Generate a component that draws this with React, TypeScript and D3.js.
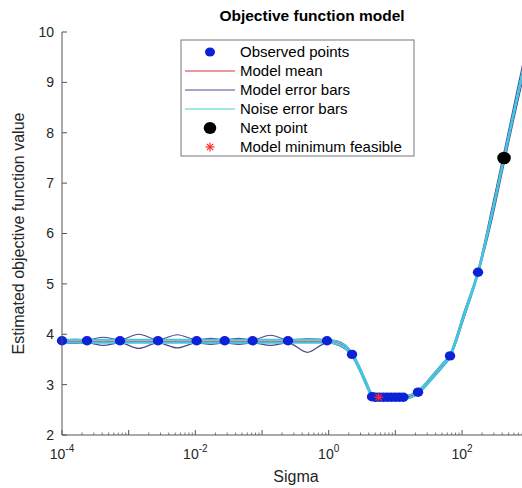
import React from "react";
import * as d3 from "d3";

// ---- data (x values are log10(Sigma)) ----
const curveLogSigma = [-4.0, -3.81, -3.625, -3.38, -3.13, -2.85, -2.56, -2.27, -1.98, -1.77, -1.56, -1.35, -1.14, -0.875, -0.61, -0.32, -0.025, 0.15, 0.35, 0.47, 0.57, 0.65, 0.75, 0.9, 1.05, 1.19, 1.34, 1.58, 1.72, 1.82, 1.92, 2.0, 2.24, 2.45, 2.63, 2.9, 3.0];
const meanValues = [3.86, 3.86, 3.86, 3.86, 3.86, 3.86, 3.86, 3.86, 3.86, 3.86, 3.86, 3.86, 3.86, 3.86, 3.86, 3.86, 3.86, 3.82, 3.6, 3.3, 3.0, 2.79, 2.75, 2.75, 2.75, 2.76, 2.85, 3.19, 3.4, 3.57, 3.92, 4.26, 5.23, 6.4, 7.5, 9.14, 9.72];
const modelUpper = [3.89, 3.9, 3.89, 3.94, 3.89, 4.0, 3.89, 3.99, 3.89, 3.92, 3.89, 3.92, 3.89, 3.98, 3.89, 3.91, 3.89, 3.86, 3.63, 3.34, 3.04, 2.82, 2.78, 2.78, 2.78, 2.79, 2.88, 3.23, 3.44, 3.6, 3.97, 4.32, 5.27, 6.52, 7.62, 9.3, 9.92];
const modelLower = [3.83, 3.82, 3.83, 3.78, 3.83, 3.72, 3.83, 3.73, 3.83, 3.8, 3.83, 3.8, 3.83, 3.78, 3.83, 3.64, 3.83, 3.78, 3.57, 3.26, 2.96, 2.76, 2.72, 2.72, 2.72, 2.73, 2.82, 3.15, 3.36, 3.54, 3.87, 4.2, 5.19, 6.28, 7.38, 8.98, 9.52];
const noiseHalfWidth = [0.03];

const observedLogSigma = [-4, -3.625, -3.13, -2.56, -1.98, -1.56, -1.14, -0.61, -0.025, 0.35, 0.65, 0.7, 0.76, 0.82, 0.88, 0.94, 1.0, 1.06, 1.12, 1.34, 1.82, 2.24];
const observedValues = [3.87, 3.87, 3.87, 3.87, 3.87, 3.87, 3.87, 3.87, 3.87, 3.6, 2.76, 2.75, 2.75, 2.75, 2.75, 2.75, 2.75, 2.75, 2.75, 2.85, 3.57, 5.23];
const nextPoint = [2.63, 7.5];
const minFeasible = [0.75, 2.75];

const yTicks = [2, 3, 4, 5, 6, 7, 8, 9, 10];
const xMajorExps = [-4, -3, -2, -1, 0, 1, 2, 3];
const xLabelExps = [-4, -2, 0, 2];
const legendLabels = ["Observed points", "Model mean", "Model error bars", "Noise error bars", "Next point", "Model minimum feasible"];

const W = 522, H = 488;
const C_OBS = "#0b22d8";
const C_MEAN = "#d8303a";
const C_MODEL = "#474c8c";
const C_NOISE = "#45c6e0";
const C_AXIS = "#555555";
const C_TEXT = "#262626";
const FONT = "'Liberation Sans', Arial, Helvetica, sans-serif";

export default function App() {
  const x = d3.scaleLog().domain([1e-4, 1e3]).range([62, 528.7]);
  const y = d3.scaleLinear().domain([2, 10]).range([435, 32]);
  const px = (e: number) => x(Math.pow(10, e));

  const mk = (vals: number[], off = 0) =>
    d3
      .line<number>()
      .x((_, i) => px(curveLogSigma[i]))
      .y((v) => y(v + off))
      .curve(d3.curveMonotoneX)(vals) as string;

  const minorTicks: number[] = [];
  for (let e = -4; e < 3; e++) for (let k = 2; k <= 9; k++) minorTicks.push(k * Math.pow(10, e));

  const star = (cx: number, cy: number, r: number, color: string, key?: string) => (
    <g key={key} stroke={color} strokeWidth={1.2}>
      <line x1={cx - r} y1={cy} x2={cx + r} y2={cy} />
      <line x1={cx} y1={cy - r} x2={cx} y2={cy + r} />
      <line x1={cx - r * 0.7} y1={cy - r * 0.7} x2={cx + r * 0.7} y2={cy + r * 0.7} />
      <line x1={cx - r * 0.7} y1={cy + r * 0.7} x2={cx + r * 0.7} y2={cy - r * 0.7} />
    </g>
  );

  const legX = 181, legY = 40, legW = 233, legH = 116, rowH = 19;
  return (
    <svg width={W} height={H} style={{ position: "absolute", left: 0, top: 0, background: "#fff" }} fontFamily={FONT}>
      <rect width={W} height={H} fill="#fff" />
      {/* curves */}
      <path d={mk(meanValues)} fill="none" stroke={C_MEAN} strokeWidth={1} />
      <path d={mk(modelUpper)} fill="none" stroke={C_MODEL} strokeWidth={1.2} />
      <path d={mk(modelLower)} fill="none" stroke={C_MODEL} strokeWidth={1.2} />
      <path d={mk(meanValues, noiseHalfWidth[0])} fill="none" stroke={C_NOISE} strokeWidth={1.9} />
      <path d={mk(meanValues, -noiseHalfWidth[0])} fill="none" stroke={C_NOISE} strokeWidth={1.9} />
      {/* observed points */}
      {observedLogSigma.map((e, i) => (
        <ellipse key={i} cx={px(e)} cy={y(observedValues[i])} rx={5.2} ry={4.7} fill={C_OBS} />
      ))}
      <ellipse cx={px(nextPoint[0])} cy={y(nextPoint[1])} rx={6.8} ry={6.3} fill="#000" />
      {star(px(minFeasible[0]), y(minFeasible[1]), 4.5, "#ff2a2a")}

      {/* axes */}
      <line x1={62} y1={y(2)} x2={W} y2={y(2)} stroke={C_AXIS} strokeWidth={1} />
      <line x1={62} y1={y(2)} x2={62} y2={y(10)} stroke={C_AXIS} strokeWidth={1} />
      {yTicks.map((t) => (
        <g key={t}>
          <line x1={62} x2={67} y1={y(t)} y2={y(t)} stroke={C_AXIS} />
          <text x={54} y={y(t)} dy="0.35em" textAnchor="end" fontSize={14} fill={C_TEXT}>{t}</text>
        </g>
      ))}
      {minorTicks.map((t, i) => (
        <line key={i} x1={x(t)} x2={x(t)} y1={y(2)} y2={y(2) - 2.5} stroke={C_AXIS} strokeWidth={0.8} />
      ))}
      {xMajorExps.map((e) => (
        <line key={e} x1={px(e)} x2={px(e)} y1={y(2)} y2={y(2) - 5} stroke={C_AXIS} />
      ))}
      {xLabelExps.map((e) => (
        <text key={e} x={px(e)} y={459} textAnchor="middle" fontSize={14} fill={C_TEXT}>
          10<tspan dy={-7} fontSize={10}>{e}</tspan>
        </text>
      ))}
      <text x={296} y={482} textAnchor="middle" fontSize={16} fill={C_TEXT}>Sigma</text>
      <text transform={`translate(24, ${(y(2) + y(10)) / 2}) rotate(-90)`} textAnchor="middle" fontSize={16} fill={C_TEXT}>
        Estimated objective function value
      </text>
      <text x={312} y={21} textAnchor="middle" fontSize={15.5} fontWeight="bold" fill="#000">Objective function model</text>

      {/* legend */}
      <rect x={legX} y={legY} width={legW} height={legH} fill="#fff" stroke="#777" strokeWidth={1} />
      {legendLabels.map((l, i) => {
        const cy = legY + 12 + i * rowH;
        const sx = legX + 29;
        let sym: any = null;
        if (i === 0) sym = <ellipse cx={sx} cy={cy} rx={5} ry={4.5} fill={C_OBS} />;
        if (i === 1) sym = <line x1={legX + 4} x2={legX + 54} y1={cy} y2={cy} stroke={C_MEAN} />;
        if (i === 2) sym = <line x1={legX + 4} x2={legX + 54} y1={cy} y2={cy} stroke={C_MODEL} />;
        if (i === 3) sym = <line x1={legX + 4} x2={legX + 54} y1={cy} y2={cy} stroke="#3fd6c8" />;
        if (i === 4) sym = <ellipse cx={sx} cy={cy} rx={6.3} ry={6} fill="#000" />;
        if (i === 5) sym = star(sx, cy, 4.5, "#ff2a2a");
        return (
          <g key={l}>
            {sym}
            <text x={legX + 59} y={cy} dy="0.35em" fontSize={15} fill="#000">{l}</text>
          </g>
        );
      })}
    </svg>
  );
}
